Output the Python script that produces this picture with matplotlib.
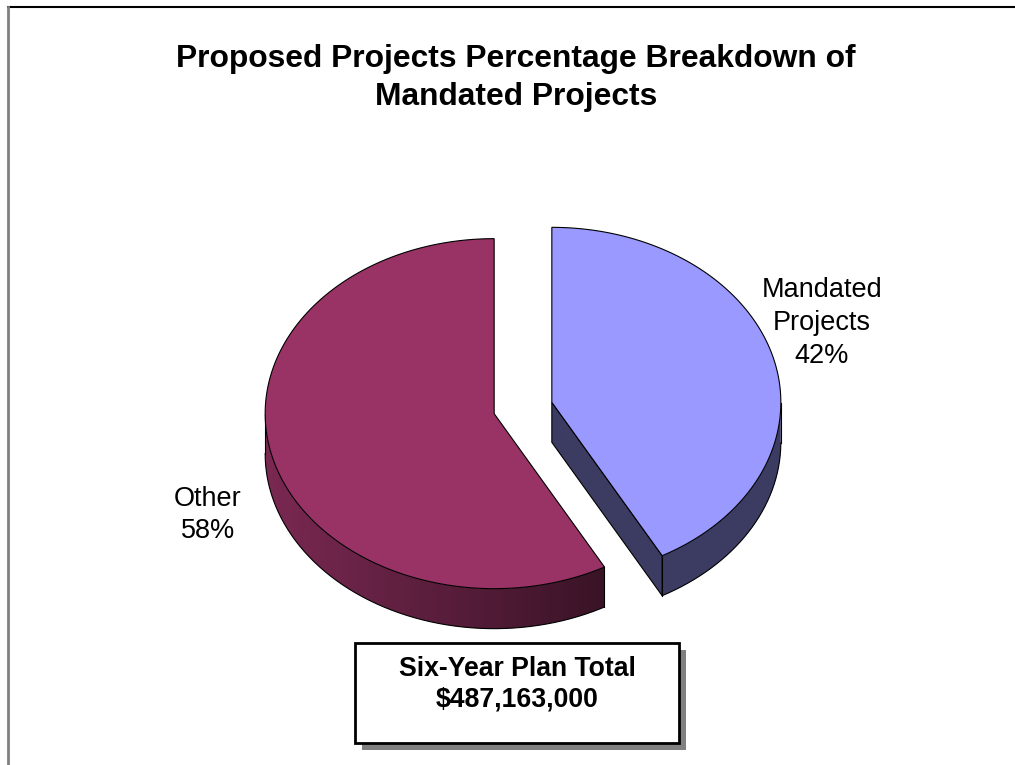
import numpy as np
import matplotlib
matplotlib.use("Agg")
import matplotlib.pyplot as plt
from matplotlib.patches import Polygon, Rectangle

plt.rcParams['font.family'] = ['Liberation Sans', 'DejaVu Sans']

labels = ['Mandated\nProjects', 'Other']
shares = [42, 58]
top_colors = ['#9999ff', '#993366']
title = 'Proposed Projects Percentage Breakdown of\nMandated Projects'
box_text = 'Six-Year Plan Total\n$487,163,000'

# pie geometry in pixel space (y down)
cx, cy = 523, 408
rx, ry = 229, 175
depth = 40
explode = 0.13

fig = plt.figure(figsize=(10.15, 7.65), dpi=100)
ax = fig.add_axes([0, 0, 1, 1])
ax.set_xlim(0, 1015)
ax.set_ylim(765, 0)
ax.axis('off')


def pt(ox, oy, a):
    r = np.radians(a)
    return ox + rx * np.cos(r), oy - ry * np.sin(r)


def shade(c, f):
    rgb = np.array(matplotlib.colors.to_rgb(c))
    return tuple(rgb * f)


fracs = np.array(shares) / np.sum(shares)
start = 90.0
slices = []
for frac, col in zip(fracs, top_colors):
    a1 = start
    a0 = start - frac * 360
    mid = np.radians((a0 + a1) / 2)
    ox = cx + explode * rx * np.cos(mid)
    oy = cy - explode * ry * np.sin(mid)
    slices.append((a0, a1, ox, oy, col))
    start = a0

for i, (a0, a1, ox, oy, col) in enumerate(slices):
    # radial face on the clockwise end, if it faces the viewer
    if np.sin(np.radians(a0 - 90)) < -0.05:
        ex, ey = pt(ox, oy, a0)
        face = [(ox, oy), (ex, ey), (ex, ey + depth), (ox, oy + depth)]
        ax.add_patch(Polygon(face, closed=True, facecolor=shade(col, 0.39),
                             edgecolor='black', lw=0.8, zorder=2))
    # outer wall (front half only)
    angs = np.linspace(a0, a1, 400)
    vis = np.sin(np.radians(angs)) < 0
    if vis.any():
        va = angs[vis]
        xs, ys = pt(ox, oy, va)
        poly = list(zip(xs, ys)) + list(zip(xs[::-1], ys[::-1] + depth))
        if i == 1:
            wall = Polygon(poly, closed=True, facecolor='none', edgecolor='none')
            ax.add_patch(wall)
            grad = np.linspace(0.8, 0.38, 256)
            img = np.array([[shade(col, f) for f in grad]])
            im = ax.imshow(img, extent=(xs.min(), xs.max(), ys.max() + depth, ys.min()),
                           aspect='auto', interpolation='bilinear', zorder=2)
            im.set_clip_path(wall)
        else:
            ax.add_patch(Polygon(poly, closed=True, facecolor=shade(col, 0.39),
                                 edgecolor='none', zorder=2))
        ax.plot(xs, ys + depth, color='black', lw=0.8, zorder=3)
        for j in (0, -1):
            ax.plot([xs[j], xs[j]], [ys[j], ys[j] + depth], color='black', lw=0.8, zorder=3)
    # top face
    xs, ys = pt(ox, oy, angs)
    top = [(ox, oy)] + list(zip(xs, ys))
    ax.add_patch(Polygon(top, closed=True, facecolor=col, edgecolor='black',
                         lw=0.8, zorder=4))

ax.set_xlim(0, 1015)
ax.set_ylim(765, 0)

# labels
ax.text(822, 323, 'Mandated\nProjects\n42%', ha='center', va='center',
        fontsize=19.5, linespacing=1.33, zorder=5)
ax.text(208, 515, 'Other\n58%', ha='center', va='center',
        fontsize=19.5, linespacing=1.33, zorder=5)

ax.text(516, 78, title, ha='center', va='center', fontsize=22.9,
        fontweight='bold', linespacing=1.33)

# total box with shadow
ax.add_patch(Rectangle((362, 650), 324, 100, facecolor='#808080', edgecolor='none', zorder=5))
ax.add_patch(Rectangle((355, 643), 324, 100, facecolor='white', edgecolor='black', lw=2, zorder=6))
ax.text(517, 684, box_text, ha='center', va='center', fontsize=19.2,
        fontweight='bold', linespacing=1.22, zorder=7)

# page frame
ax.plot([8, 1015], [7, 7], color='black', lw=1.5)
ax.plot([8, 8], [7, 765], color='#808080', lw=2)

fig.savefig('out.png', dpi=100)
